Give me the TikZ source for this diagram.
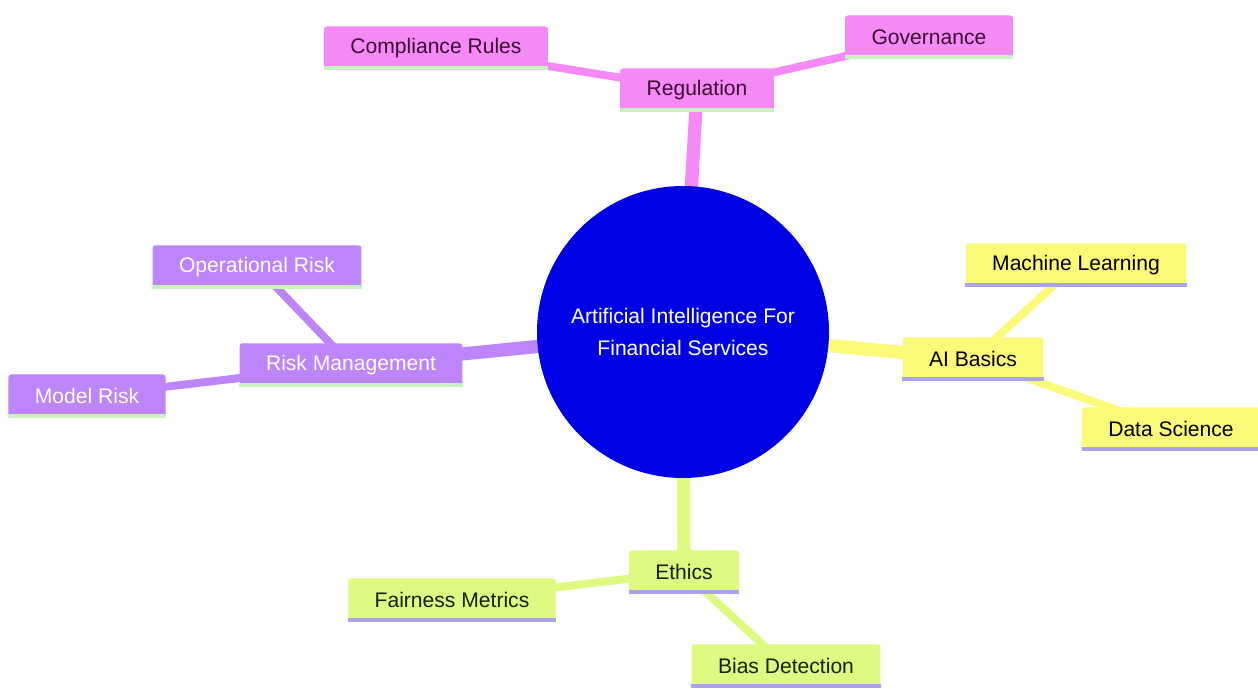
\documentclass[tikz,border=0pt]{standalone}
\usepackage{fontspec}
\setmainfont{Liberation Sans}
\usetikzlibrary{backgrounds}
\definecolor{hubblue}{RGB}{0,0,228}
\definecolor{pinkfill}{RGB}{245,137,245}
\definecolor{purplefill}{RGB}{190,132,250}
\definecolor{yellowfill}{RGB}{250,250,120}
\definecolor{greenfill}{RGB}{222,250,128}
\definecolor{pinktext}{RGB}{60,12,50}
\definecolor{greentext}{RGB}{22,34,12}
\definecolor{mintline}{RGB}{200,242,190}
\definecolor{lavline}{RGB}{172,162,232}
\tikzstyle{hub}=[circle,fill=hubblue,text=white,minimum size=5.84cm,inner sep=0pt,align=center,font=\fontsize{12}{18}\selectfont]
\tikzstyle{topic}=[rectangle,rounded corners=1.5pt,minimum height=24.5pt,inner xsep=15pt,inner ysep=2pt,font=\fontsize{12}{14}\selectfont]
\tikzstyle{regbox}=[topic,fill=pinkfill,text=pinktext]
\tikzstyle{riskbox}=[topic,fill=purplefill,text=white]
\tikzstyle{aibox}=[topic,fill=yellowfill,text=black]
\tikzstyle{ethbox}=[topic,fill=greenfill,text=greentext]

\begin{document}
\begin{tikzpicture}
\useasboundingbox (0,0) rectangle (25.16,-13.86);

\node[hub] (hub) at (13.66, -6.64) {Artificial Intelligence For\\Financial Services};

\node[regbox] (reg) at (13.94, -1.80) {Regulation};
\node[regbox] (comp) at (8.72, -0.96) {Compliance Rules};
\node[regbox] (gov) at (18.58, -0.74) {Governance};

\node[riskbox] (risk) at (7.02, -7.30) {Risk Management};
\node[riskbox] (oprisk) at (5.14, -5.34) {Operational Risk};
\node[riskbox] (modrisk) at (1.74, -7.92) {Model Risk};

\node[aibox] (ai) at (19.46, -7.18) {AI Basics};
\node[aibox] (ml) at (21.52, -5.30) {Machine Learning};
\node[aibox] (ds) at (23.42, -8.58) {Data Science};

\node[ethbox] (eth) at (13.68, -11.44) {Ethics};
\node[ethbox] (fair) at (9.04, -12.00) {Fairness Metrics};
\node[ethbox] (bias) at (15.72, -13.32) {Bias Detection};

\begin{pgfonlayer}{background}
\fill[white] (0,0) rectangle (25.16,-13.86);
\draw[pinkfill,line width=7.5pt] (hub.center) -- (reg.center);
\draw[purplefill,line width=7.5pt] (hub.center) -- (risk.center);
\draw[yellowfill,line width=7.5pt] (hub.center) -- (ai.center);
\draw[greenfill,line width=7.5pt] (hub.center) -- (eth.center);
\draw[pinkfill,line width=4.5pt] (reg.center) -- (comp.center);
\draw[pinkfill,line width=4.5pt] (reg.center) -- (gov.center);
\draw[purplefill,line width=4.5pt] (risk.center) -- (oprisk.center);
\draw[purplefill,line width=4.5pt] (risk.center) -- (modrisk.center);
\draw[yellowfill,line width=4.5pt] (ai.center) -- (ml.center);
\draw[yellowfill,line width=4.5pt] (ai.center) -- (ds.center);
\draw[greenfill,line width=4.5pt] (eth.center) -- (fair.center);
\draw[greenfill,line width=4.5pt] (eth.center) -- (bias.center);
\end{pgfonlayer}

\foreach \n/\c in {reg/mintline,comp/mintline,gov/mintline,risk/mintline,oprisk/mintline,modrisk/mintline,ai/lavline,ml/lavline,ds/lavline,eth/lavline,fair/lavline,bias/lavline}
  \draw[\c,line width=2pt] ([yshift=1pt]\n.south west) -- ([yshift=1pt]\n.south east);
\end{tikzpicture}
\end{document}
